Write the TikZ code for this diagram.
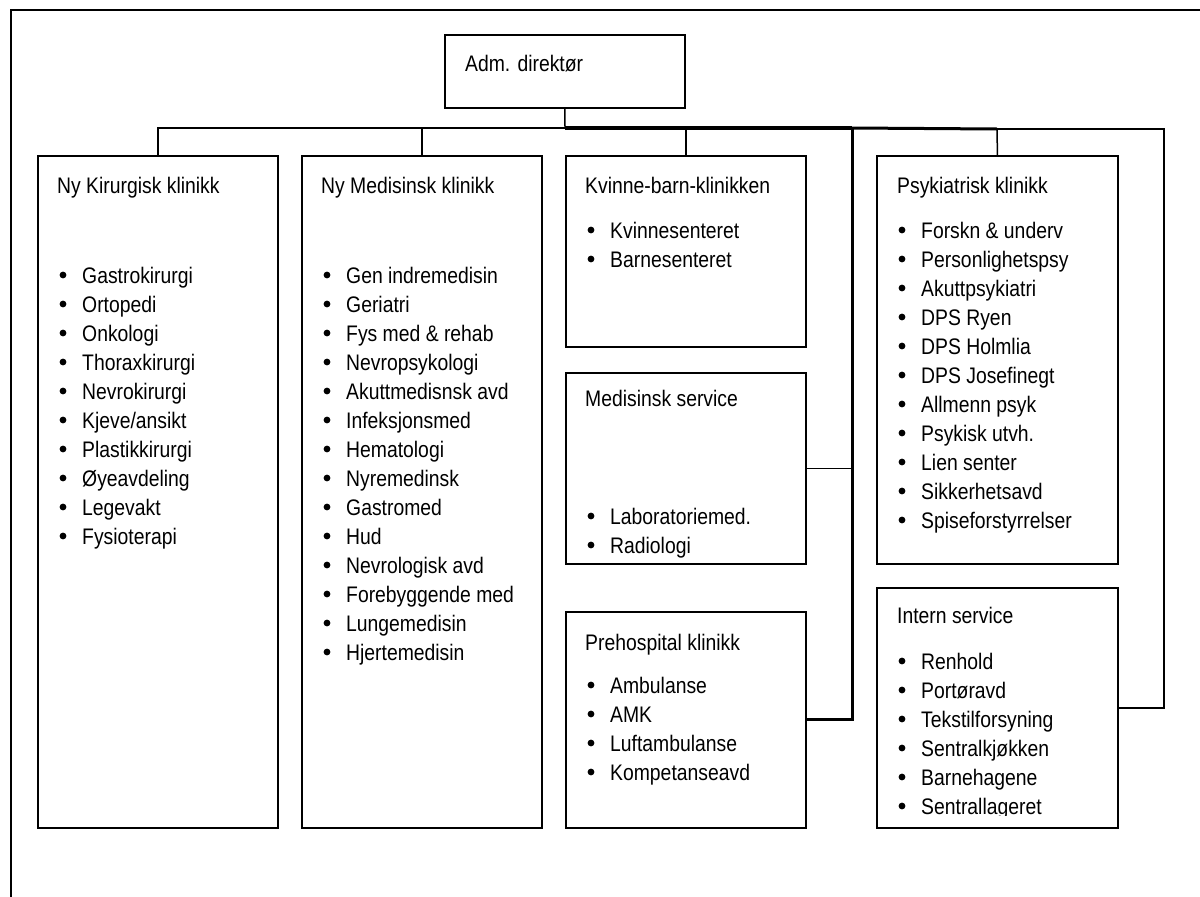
\documentclass[tikz,border=0pt]{standalone}
\usepackage{fontspec}
\setmainfont{Liberation Sans}[FakeStretch=0.86]
\newcommand\bulletlist[4]{%
  \foreach \t [count=\i] in {#4} {%
    \fill ({#2+26},{#3+29*(\i-1)}) circle (3.4pt);
    \node[txt] (#1\i) at ({#2+45},{#3+8+29*(\i-1)}) {\t};
  }}
\begin{document}
\begin{tikzpicture}[x=1pt,y=-1pt,
  box/.style={draw, line width=1.9pt, rectangle, anchor=north west, inner sep=0pt},
  txt/.style={anchor=base west, inner sep=0pt, font=\fontsize{22.5pt}{27pt}\selectfont},
  conn/.style={line width=1.5pt},
  thickconn/.style={line width=4pt},
  midconn/.style={line width=3pt}]
\useasboundingbox (0,0) rectangle (1200,897);
\fill[white] (0,0) rectangle (1200,897);
% frame
\draw[line width=2.4pt] (11,897) -- (11,10) -- (1201,10);

% boxes
\node[box, minimum width=240pt, minimum height=73pt] (adm) at (444,34) {};
\node[box, minimum width=240pt, minimum height=672pt] (kir) at (37,155) {};
\node[box, minimum width=240pt, minimum height=672pt] (med) at (301,155) {};
\node[box, minimum width=240pt, minimum height=191pt] (kvb) at (565,155) {};
\node[box, minimum width=240pt, minimum height=191pt] (msv) at (565,372) {};
\node[box, minimum width=240pt, minimum height=216pt] (pre) at (565,611) {};
\node[box, minimum width=241pt, minimum height=408pt] (psy) at (876,155) {};
\node[box, minimum width=241pt, minimum height=240pt] (int) at (876,587) {};

% connectors
\coordinate (bus) at (565,128);
\coordinate (trunk) at (852,128);
\coordinate (psyk) at (997,129);
\coordinate (rt) at (1164,129);
\draw[conn] (adm.south) -- (bus);
\draw[conn] (bus) -| (kir.north);
\draw[conn] (bus) -| (med.north);
\draw[conn] (bus) -| (kvb.north);
\draw[thickconn] (bus) -- (trunk);
\draw[midconn] (trunk) -- (psyk);
\draw[conn] (psyk) -- (psy.north);
\draw[conn] (psyk) -- (rt) |- (int.east);
\draw[midconn] (trunk) |- (pre.east);
\draw[conn] (msv.east) -- (msv.east -| trunk);

% texts
\node[txt] (admt) at (465,71) {Adm. direktør};
\node[txt] (kirt) at (57,193) {Ny Kirurgisk klinikk};
\node[txt] (medt) at (321,193) {Ny Medisinsk klinikk};
\node[txt] (kvbt) at (585,193) {Kvinne-barn-klinikken};
\node[txt] (msvt) at (585,406) {Medisinsk service};
\node[txt] (pret) at (585,650) {Prehospital klinikk};
\node[txt] (psyt) at (897,193) {Psykiatrisk klinikk};
\node[txt] (intt) at (897,623) {Intern service};

\bulletlist{kiri}{37}{275}{Gastrokirurgi,Ortopedi,Onkologi,Thoraxkirurgi,Nevrokirurgi,Kjeve/ansikt,Plastikkirurgi,Øyeavdeling,Legevakt,Fysioterapi}
\bulletlist{medi}{301}{275}{Gen indremedisin,Geriatri,Fys med \& rehab,Nevropsykologi,Akuttmedisnsk avd,Infeksjonsmed,Hematologi,Nyremedinsk,Gastromed,Hud,Nevrologisk avd,Forebyggende med,Lungemedisin,Hjertemedisin}
\bulletlist{kvbi}{565}{230}{Kvinnesenteret,Barnesenteret}
\bulletlist{msvi}{565}{516}{Laboratoriemed.,Radiologi}
\bulletlist{prei}{565}{685}{Ambulanse,AMK,Luftambulanse,Kompetanseavd}
\bulletlist{psyi}{876}{230}{Forskn \& underv,Personlighetspsy,Akuttpsykiatri,DPS Ryen,DPS Holmlia,DPS Josefinegt,Allmenn psyk,Psykisk utvh.,Lien senter,Sikkerhetsavd,Spiseforstyrrelser}
\begin{scope}
\clip (876,587) rectangle (1117,815);
\bulletlist{inti}{876}{661}{Renhold,Portøravd,Tekstilforsyning,Sentralkjøkken,Barnehagene,Sentrallageret}
\end{scope}
\end{tikzpicture}
\end{document}
